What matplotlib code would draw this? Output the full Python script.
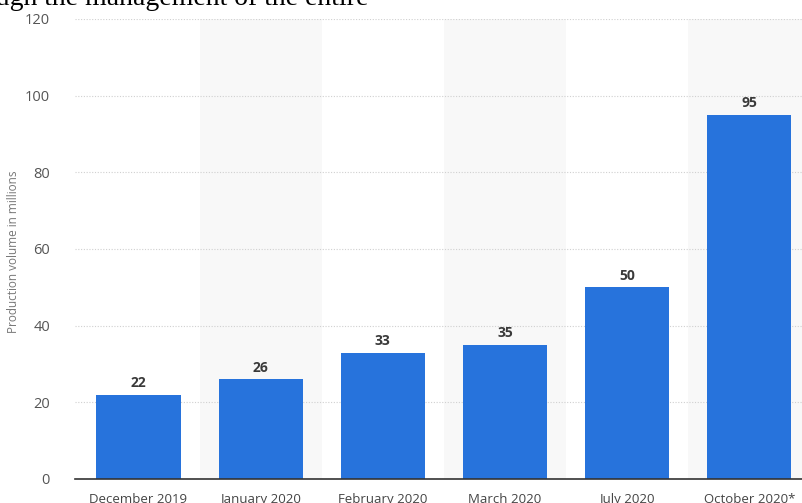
import matplotlib.pyplot as plt

months = ["December 2019", "January 2020", "February 2020", "March 2020",
          "July 2020", "October 2020*"]
volumes = [22, 26, 33, 35, 50, 95]
y_ticks = [0, 20, 40, 60, 80, 100, 120]

bar_color = "#2773dc"
band_color = "#f8f8f8"

fig = plt.figure(figsize=(8.03, 5.03), dpi=100)
ax = fig.add_axes([75 / 803, 24 / 503, 728 / 803, 460 / 503])

x = list(range(len(months)))
for i in x[1::2]:
    ax.axvspan(i - 0.5, i + 0.5, color=band_color, zorder=0, lw=0)

bars = ax.bar(x, volumes, width=0.69, color=bar_color, zorder=3)
for xi, v in zip(x, volumes):
    ax.text(xi, v + 1.2, str(v), ha="center", va="bottom", fontsize=10,
            fontweight="bold", color="#3a3a3a", family="Open Sans", zorder=4)

ax.set_xlim(-0.52, 5.44)
ax.set_ylim(0, 120)
ax.set_yticks(y_ticks)
ax.set_xticks(x)
ax.set_xticklabels(months)
for lab in ax.get_xticklabels():
    lab.set_family("Open Sans")
    lab.set_fontsize(9.5)
    lab.set_color("#444444")
for lab in ax.get_yticklabels():
    lab.set_family("Open Sans")
    lab.set_fontsize(10.5)
    lab.set_color("#555555")

ax.tick_params(axis="both", length=0)
ax.tick_params(axis="x", pad=10)
ax.tick_params(axis="y", pad=18)
ax.grid(axis="y", linestyle=(0, (1, 1.5)), color="#d0d0d0", linewidth=0.8, zorder=1)
ax.set_axisbelow(True)
for s in ["top", "right", "left"]:
    ax.spines[s].set_visible(False)
ax.spines["bottom"].set_color("#333333")
ax.spines["bottom"].set_linewidth(1.2)
ax.spines["bottom"].set_zorder(5)

fig.text(14 / 803, 1 - 252 / 503, "Production volume in millions", rotation=90,
         ha="center", va="center", fontsize=8.5, color="#777777", family="Open Sans")

# cut-off text from the page above the chart
fig.text(368 / 803, 1 - 5 / 503, "ough the management of the entire",
         ha="right", va="baseline", fontsize=20, family="Liberation Serif",
         color="black")

fig.savefig("out.png", dpi=100)
